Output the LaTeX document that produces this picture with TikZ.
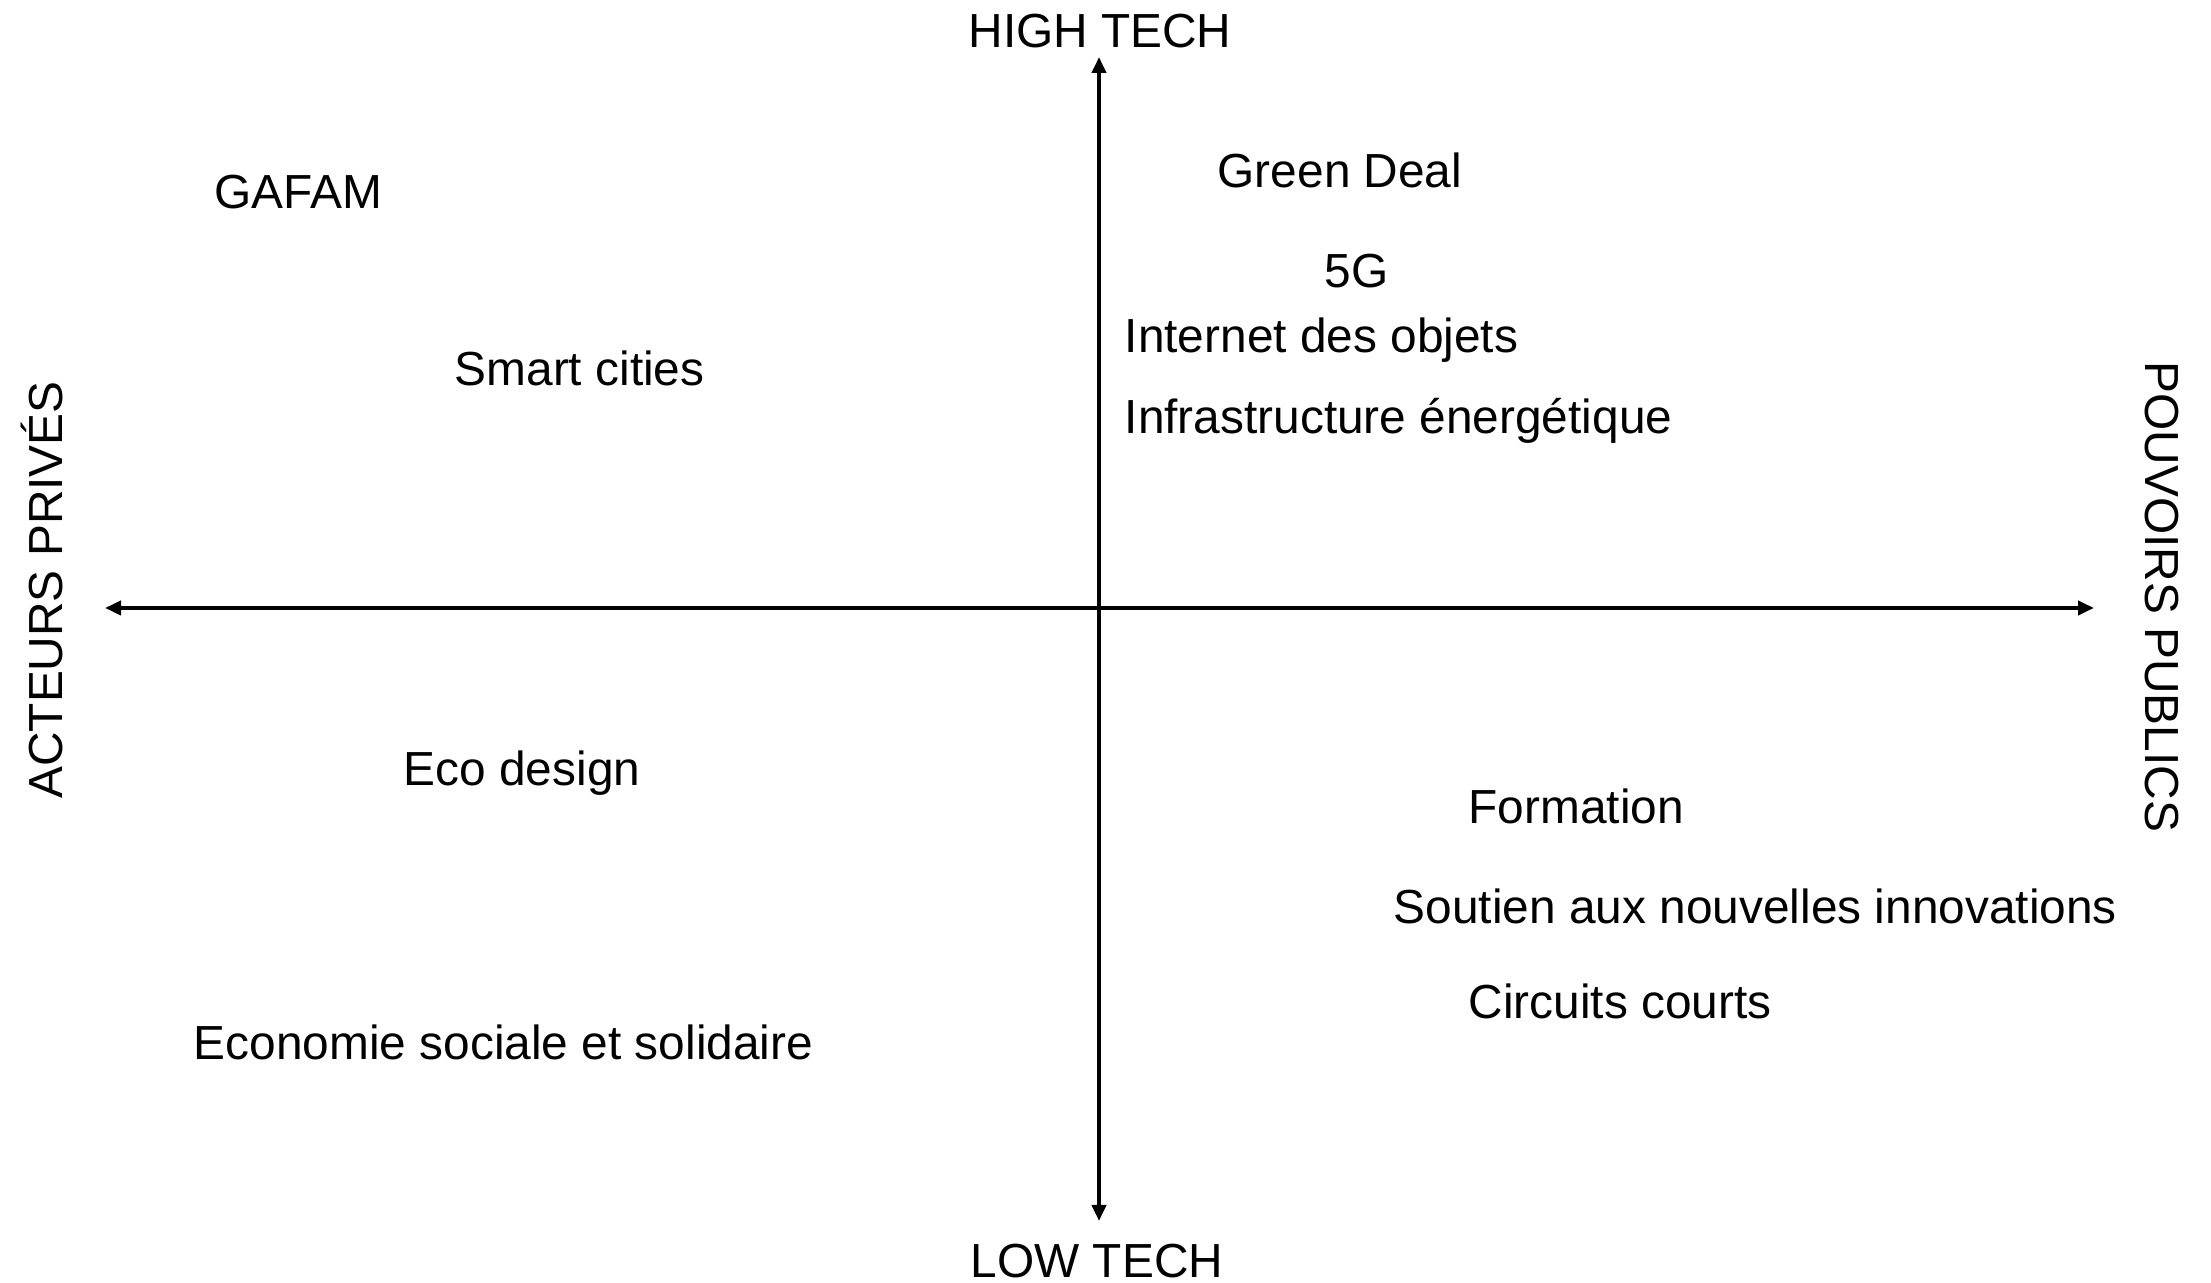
\documentclass[tikz,border=0pt]{standalone}
\usepackage{fontspec}
\setmainfont{Liberation Sans}
\usetikzlibrary{arrows.meta}

\begin{document}
\begin{tikzpicture}[x=0.01cm, y=-0.01cm,
        lbl/.style={inner sep=0pt, anchor=base west, font=\fontsize{13.6}{16}\selectfont},
        axis/.style={{Triangle[length=0.16cm,width=0.14cm]}-{Triangle[length=0.16cm,width=0.14cm]}, line width=1.1pt}]
    \useasboundingbox (0, 0) rectangle (2211, 1283);
    % axes
    \coordinate (top) at (1099, 57);
    \coordinate (bottom) at (1099, 1221);
    \coordinate (left) at (105, 608);
    \coordinate (right) at (2094, 608);
    \draw[axis] (top) -- (bottom);
    \draw[axis] (left) -- (right);
    \node[lbl, anchor=base] (high) at (1100, 48) {HIGH TECH};
    \node[lbl, anchor=base] (low) at (1097, 1278) {LOW TECH};
    \node[lbl, anchor=base, rotate=90] (prive) at (62, 590) {ACTEURS PRIVÉS};
    \node[lbl, anchor=base, rotate=-90] (public) at (2145, 597) {POUVOIRS PUBLICS};
    % quadrants
    \node[lbl] (gafam) at (214, 209) {GAFAM};
    \node[lbl] (smart) at (454, 386) {Smart cities};
    \node[lbl] (green) at (1217, 188) {Green Deal};
    \node[lbl] (fiveg) at (1324, 288) {5G};
    \node[lbl] (iot) at (1124, 353) {Internet des objets};
    \node[lbl] (infra) at (1124, 434) {Infrastructure énergétique};
    \node[lbl] (eco) at (403, 786) {Eco design};
    \node[lbl] (ess) at (193, 1060) {Economie sociale et solidaire};
    \node[lbl] (form) at (1468, 824) {Formation};
    \node[lbl] (soutien) at (1393, 924) {Soutien aux nouvelles innovations};
    \node[lbl] (circuits) at (1468, 1019) {Circuits courts};
\end{tikzpicture}
\end{document}
